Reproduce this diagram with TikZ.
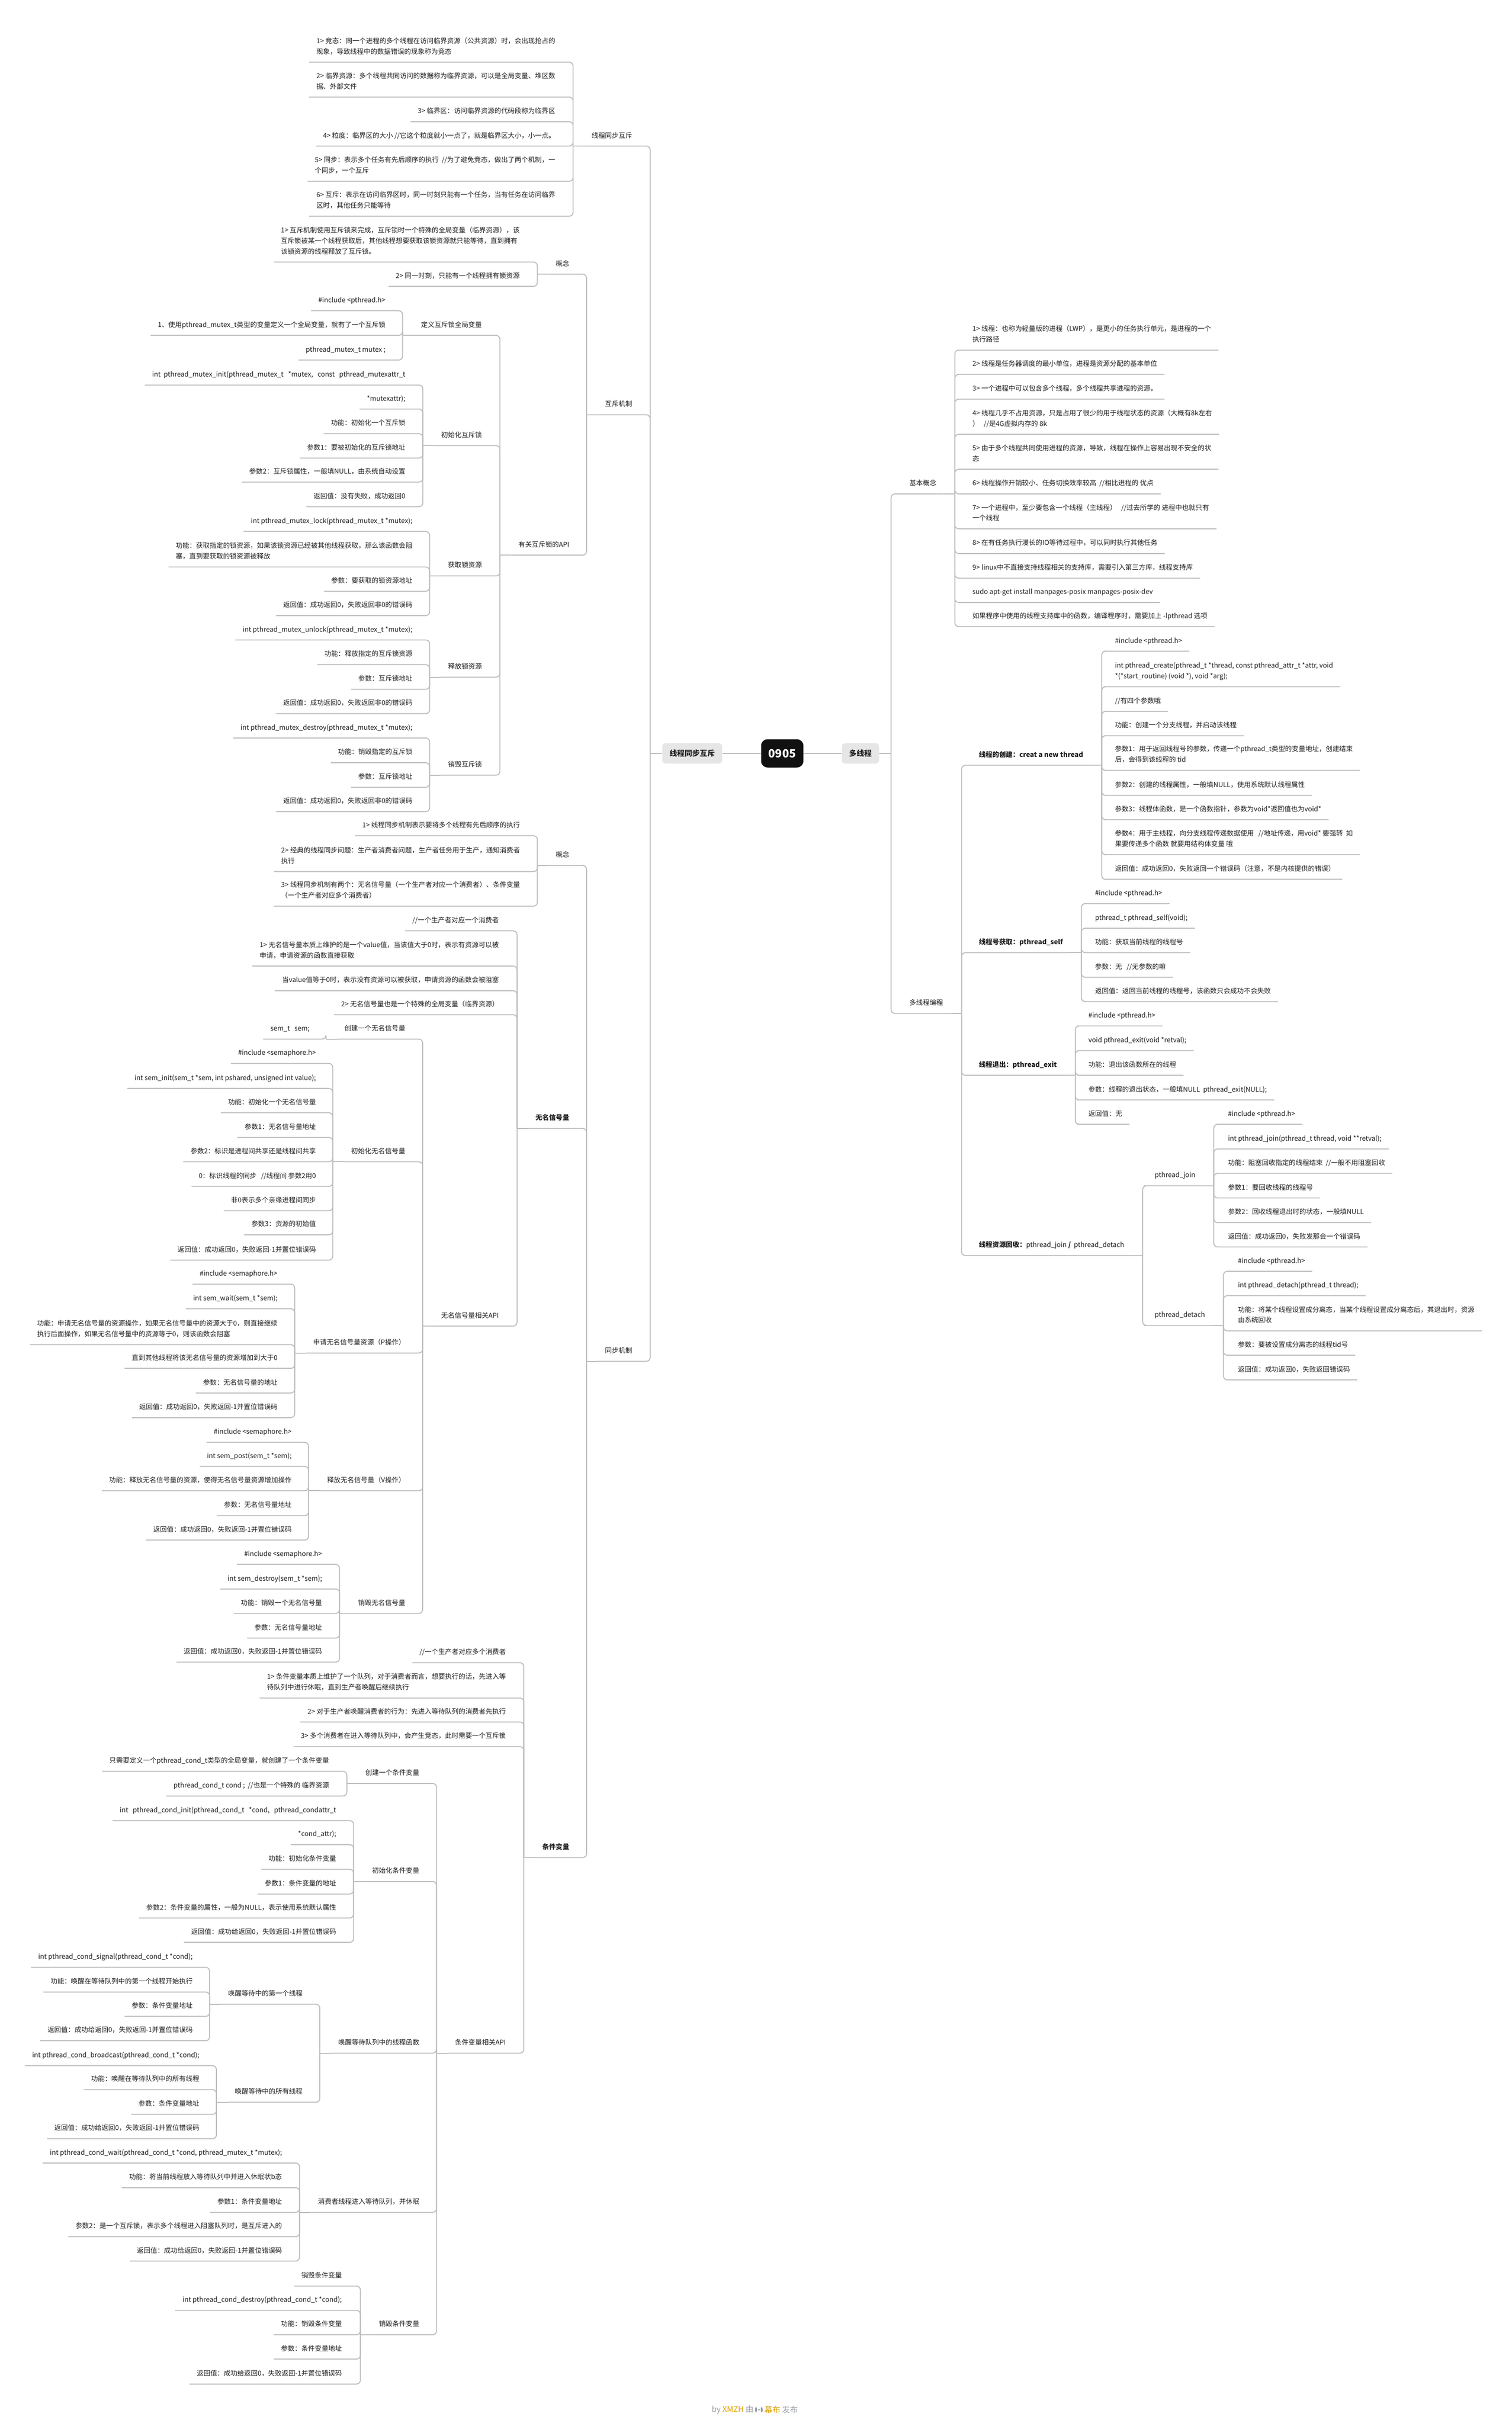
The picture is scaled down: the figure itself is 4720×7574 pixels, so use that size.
\documentclass[tikz,border=0pt]{standalone}
\usepackage{fontspec}
\setmainfont{Noto Sans CJK SC}

\definecolor{ink}{HTML}{1E1E1E}
\definecolor{linegray}{HTML}{BDBDBD}
\definecolor{boxgray}{HTML}{E6E6E6}
\definecolor{rootblack}{HTML}{111111}
\definecolor{fgray}{HTML}{9AA0A6}
\definecolor{forange}{HTML}{E0A000}

\newcommand\lines[1]{\vbox{\halign{##\hfil\cr#1\crcr}}}

\begin{document}
\begin{tikzpicture}[x=0.01cm, y=-0.01cm,
	link/.style={draw=linegray, line width=0.85pt, rounded corners=0.12cm},
	tl/.style={anchor=south east, inner xsep=0.22cm, inner ysep=0.25cm, text depth=0pt, text=ink, font=\fontsize{6}{9.4}\selectfont},
	tr/.style={tl, anchor=south west},
	strong/.style={font=\fontsize{6}{9.4}\selectfont\bfseries},
	topic/.style={fill=boxgray, rounded corners=0.1cm, minimum height=0.63cm, inner sep=0pt, text=ink, font=\fontsize{6.7}{8}\selectfont\bfseries}]
	\fill[white] (0,0) rectangle (4720,7574);
	\useasboundingbox (0,0) rectangle (4720,7574);

	\node[fill=rootblack, rounded corners=0.2cm, minimum width=1.32cm, minimum height=0.88cm, text=white, font=\fontsize{10}{12}\selectfont\bfseries] (root) at (2442,2352) {0905};
	\node[topic, minimum width=1.87cm] (lbox) at (2161,2352) {线程同步互斥};
	\node[topic, minimum width=1.16cm] (rbox) at (2686,2352) {多线程};
	\draw[link] (root) -- (lbox);
	\draw[link] (root) -- (rbox);

	% left: 线程同步互斥
	\node[tl] (sa) at (1996,456) {线程同步互斥};
	\node[tl] (sb) at (1996,1295) {互斥机制};
	\node[tl] (sc) at (1996,4250) {同步机制};
	\draw[link] (lbox.west) -- ++(-37,0) coordinate (lb);
	\foreach \c in {sa,sb,sc} \draw[link] (lb) |- (\c.south east) -- (\c.south west);

	\node[tl] (a1) at (1756,194) {\lines{1> 竞态：同一个进程的多个线程在访问临界资源（公共资源）时，会出现抢占的\cr 现象，导致线程中的数据错误的现象称为竞态}};
	\node[tl] (a2) at (1756,303) {\lines{2> 临界资源：多个线程共同访问的数据称为临界资源，可以是全局变量、堆区数\cr 据、外部文件}};
	\node[tl] (a3) at (1756,380) {3> 临界区：访问临界资源的代码段称为临界区};
	\node[tl] (a4) at (1756,456) {4> 粒度：临界区的大小 //它这个粒度就小一点了，就是临界区大小，小一点。};
	\node[tl] (a5) at (1756,566) {\lines{5> 同步：表示多个任务有先后顺序的执行\ \ //为了避免竞态，做出了两个机制，一\cr 个同步，一个互斥}};
	\node[tl] (a6) at (1756,675) {\lines{6> 互斥：表示在访问临界区时，同一时刻只能有一个任务，当有任务在访问临界\cr 区时，其他任务只能等待}};
	\draw[link] (sa.south west) -- ++(-35,0) coordinate (sa-b);
	\foreach \c in {a1,a2,a3,a4,a5,a6} \draw[link] (sa-b) |- (\c.south east) -- (\c.south west);

	% 互斥机制
	\node[tl] (b1) at (1800,856) {概念};
	\node[tl] (b2) at (1800,1733) {有关互斥锁的API};
	\draw[link] (sb.south west) -- ++(-35,0) coordinate (sb-b);
	\foreach \c in {b1,b2} \draw[link] (sb-b) |- (\c.south east) -- (\c.south west);

	\node[tl] (b11) at (1645,818) {\lines{1> 互斥机制使用互斥锁来完成，互斥锁时一个特殊的全局变量（临界资源），该\cr 互斥锁被某一个线程获取后，其他线程想要获取该锁资源就只能等待，直到拥有\cr 该锁资源的线程释放了互斥锁。}};
	\node[tl] (b12) at (1645,894) {2> 同一时刻，只能有一个线程拥有锁资源};
	\draw[link] (b1.south west) -- ++(-35,0) coordinate (b1-b);
	\foreach \c in {b11,b12} \draw[link] (b1-b) |- (\c.south east) -- (\c.south west);

	\node[tl] (c1) at (1527,1047) {定义互斥锁全局变量};
	\node[tl] (c2) at (1527,1391) {初始化互斥锁};
	\node[tl] (c3) at (1527,1798) {获取锁资源};
	\node[tl] (c4) at (1527,2114) {释放锁资源};
	\node[tl] (c5) at (1527,2420) {销毁互斥锁};
	\draw[link] (b2.south west) -- ++(-35,0) coordinate (b2-b);
	\foreach \c in {c1,c2,c3,c4,c5} \draw[link] (b2-b) |- (\c.south east) -- (\c.south west);

	\node[tl] (c11) at (1226,970) {\#include <pthread.h>};
	\node[tl] (c12) at (1226,1047) {1、使用pthread\_mutex\_t类型的变量定义一个全局变量，就有了一个互斥锁};
	\node[tl] (c13) at (1226,1124) {pthread\_mutex\_t mutex ;};
	\draw[link] (c1.south west) -- ++(-35,0) coordinate (c1-b);
	\foreach \c in {c11,c12,c13} \draw[link] (c1-b) |- (\c.south east) -- (\c.south west);

	\node[tl] (c21) at (1288,1202) {int\ \ pthread\_mutex\_init(pthread\_mutex\_t\ \ \ *mutex,\ \ \ const\ \ \ pthread\_mutexattr\_t};
	\node[tl] (c22) at (1288,1277) {*mutexattr);};
	\node[tl] (c23) at (1288,1354) {功能：初始化一个互斥锁};
	\node[tl] (c24) at (1288,1430) {参数1：要被初始化的互斥锁地址};
	\node[tl] (c25) at (1288,1505) {参数2：互斥锁属性，一般填NULL，由系统自动设置};
	\node[tl] (c26) at (1288,1582) {返回值：没有失败，成功返回0};
	\draw[link] (c2.south west) -- ++(-35,0) coordinate (c2-b);
	\foreach \c in {c21,c22,c23,c24,c25,c26} \draw[link] (c2-b) |- (\c.south east) -- (\c.south west);

	\node[tl] (c31) at (1310,1659) {int pthread\_mutex\_lock(pthread\_mutex\_t *mutex);};
	\node[tl] (c32) at (1310,1770) {\lines{功能：获取指定的锁资源，如果该锁资源已经被其他线程获取，那么该函数会阻\cr 塞，直到要获取的锁资源被释放}};
	\node[tl] (c33) at (1310,1846) {参数：要获取的锁资源地址};
	\node[tl] (c34) at (1310,1922) {返回值：成功返回0，失败返回非0的错误码};
	\draw[link] (c3.south west) -- ++(-35,0) coordinate (c3-b);
	\foreach \c in {c31,c32,c33,c34} \draw[link] (c3-b) |- (\c.south east) -- (\c.south west);

	\node[tl] (c41) at (1310,1998) {int pthread\_mutex\_unlock(pthread\_mutex\_t *mutex);};
	\node[tl] (c42) at (1310,2075) {功能：释放指定的互斥锁资源};
	\node[tl] (c43) at (1310,2152) {参数：互斥锁地址};
	\node[tl] (c44) at (1310,2228) {返回值：成功返回0，失败返回非0的错误码};
	\draw[link] (c4.south west) -- ++(-35,0) coordinate (c4-b);
	\foreach \c in {c41,c42,c43,c44} \draw[link] (c4-b) |- (\c.south east) -- (\c.south west);

	\node[tl] (c51) at (1310,2304) {int pthread\_mutex\_destroy(pthread\_mutex\_t *mutex);};
	\node[tl] (c52) at (1310,2381) {功能：销毁指定的互斥锁};
	\node[tl] (c53) at (1310,2458) {参数：互斥锁地址};
	\node[tl] (c54) at (1310,2534) {返回值：成功返回0，失败返回非0的错误码};
	\draw[link] (c5.south west) -- ++(-35,0) coordinate (c5-b);
	\foreach \c in {c51,c52,c53,c54} \draw[link] (c5-b) |- (\c.south east) -- (\c.south west);

	% 同步机制
	\node[tl] (d1) at (1800,2702) {概念};
	\node[tl, strong] (d2) at (1800,3523) {无名信号量};
	\node[tl, strong] (d3) at (1800,5799) {条件变量};
	\draw[link] (sc.south west) -- ++(-35,0) coordinate (sc-b);
	\foreach \c in {d1,d2,d3} \draw[link] (sc-b) |- (\c.south east) -- (\c.south west);

	\node[tl] (d11) at (1646,2609) {1> 线程同步机制表示要将多个线程有先后顺序的执行};
	\node[tl] (d12) at (1646,2721) {\lines{2> 经典的线程同步问题：生产者消费者问题，生产者任务用于生产，通知消费者\cr 执行}};
	\node[tl] (d13) at (1646,2829) {\lines{3> 线程同步机制有两个：无名信号量（一个生产者对应一个消费者）、条件变量\cr （一个生产者对应多个消费者）}};
	\draw[link] (d1.south west) -- ++(-35,0) coordinate (d1-b);
	\foreach \c in {d11,d12,d13} \draw[link] (d1-b) |- (\c.south east) -- (\c.south west);

	\node[tl] (e1) at (1580,2906) {//一个生产者对应一个消费者};
	\node[tl] (e2) at (1580,3016) {\lines{1> 无名信号量本质上维护的是一个value值，当该值大于0时，表示有资源可以被\cr 申请，申请资源的函数直接获取}};
	\node[tl] (e3) at (1580,3093) {当value值等于0时，表示没有资源可以被获取，申请资源的函数会被阻塞};
	\node[tl] (e4) at (1580,3168) {2> 无名信号量也是一个特殊的全局变量（临界资源）};
	\node[tl] (e5) at (1580,4140) {无名信号量相关API};
	\draw[link] (d2.south west) -- ++(-35,0) coordinate (d2-b);
	\foreach \c in {e1,e2,e3,e4,e5} \draw[link] (d2-b) |- (\c.south east) -- (\c.south west);

	\node[tl] (f1) at (1288,3244) {创建一个无名信号量};
	\node[tl] (f2) at (1288,3627) {初始化无名信号量};
	\node[tl] (f3) at (1288,4224) {申请无名信号量资源（P操作）};
	\node[tl] (f4) at (1288,4654) {释放无名信号量（V操作）};
	\node[tl] (f5) at (1288,5037) {销毁无名信号量};
	\draw[link] (e5.south west) -- ++(-35,0) coordinate (e5-b);
	\foreach \c in {f1,f2,f3,f4,f5} \draw[link] (e5-b) |- (\c.south east) -- (\c.south west);

	\node[tl] (f11) at (989,3244) {sem\_t\ \ \ sem;};
	\draw[link] (f1.south west) -- ++(-35,0) coordinate (f1-b);
	\draw[link] (f1-b) |- (f11.south east) -- (f11.south west);

	\node[tl] (f21) at (1009,3320) {\#include <semaphore.h>};
	\node[tl] (f22) at (1009,3398) {int sem\_init(sem\_t *sem, int pshared, unsigned int value);};
	\node[tl] (f23) at (1009,3474) {功能：初始化一个无名信号量};
	\node[tl] (f24) at (1009,3551) {参数1：无名信号量地址};
	\node[tl] (f25) at (1009,3627) {参数2：标识是进程间共享还是线程间共享};
	\node[tl] (f26) at (1009,3704) {0：标识线程的同步\ \ \ //线程间 参数2用0};
	\node[tl] (f27) at (1009,3780) {非0表示多个亲缘进程间同步};
	\node[tl] (f28) at (1009,3855) {参数3：资源的初始值};
	\node[tl] (f29) at (1009,3934) {返回值：成功返回0，失败返回-1并置位错误码};
	\draw[link] (f2.south west) -- ++(-35,0) coordinate (f2-b);
	\foreach \c in {f21,f22,f23,f24,f25,f26,f27,f28,f29} \draw[link] (f2-b) |- (\c.south east) -- (\c.south west);

	\node[tl] (f31) at (889,4009) {\#include <semaphore.h>};
	\node[tl] (f32) at (889,4086) {int sem\_wait(sem\_t *sem);};
	\node[tl] (f33) at (889,4198) {\lines{功能：申请无名信号量的资源操作，如果无名信号量中的资源大于0，则直接继续\cr 执行后面操作，如果无名信号量中的资源等于0，则该函数会阻塞}};
	\node[tl] (f34) at (889,4272) {直到其他线程将该无名信号量的资源增加到大于0};
	\node[tl] (f35) at (889,4349) {参数：无名信号量的地址};
	\node[tl] (f36) at (889,4426) {返回值：成功返回0，失败返回-1并置位错误码};
	\draw[link] (f3.south west) -- ++(-35,0) coordinate (f3-b);
	\foreach \c in {f31,f32,f33,f34,f35,f36} \draw[link] (f3-b) |- (\c.south east) -- (\c.south west);

	\node[tl] (f41) at (933,4503) {\#include <semaphore.h>};
	\node[tl] (f42) at (933,4578) {int sem\_post(sem\_t *sem);};
	\node[tl] (f43) at (933,4654) {功能：释放无名信号量的资源，使得无名信号量资源增加操作};
	\node[tl] (f44) at (933,4732) {参数：无名信号量地址};
	\node[tl] (f45) at (933,4808) {返回值：成功返回0，失败返回-1并置位错误码};
	\draw[link] (f4.south west) -- ++(-35,0) coordinate (f4-b);
	\foreach \c in {f41,f42,f43,f44,f45} \draw[link] (f4-b) |- (\c.south east) -- (\c.south west);

	\node[tl] (f51) at (1028,4884) {\#include <semaphore.h>};
	\node[tl] (f52) at (1028,4961) {int sem\_destroy(sem\_t *sem);};
	\node[tl] (f53) at (1028,5037) {功能：销毁一个无名信号量};
	\node[tl] (f54) at (1028,5114) {参数：无名信号量地址};
	\node[tl] (f55) at (1028,5189) {返回值：成功返回0，失败返回-1并置位错误码};
	\draw[link] (f5.south west) -- ++(-35,0) coordinate (f5-b);
	\foreach \c in {f51,f52,f53,f54,f55} \draw[link] (f5-b) |- (\c.south east) -- (\c.south west);

	% 条件变量
	\node[tl] (g1) at (1602,5191) {//一个生产者对应多个消费者};
	\node[tl] (g2) at (1602,5301) {\lines{1> 条件变量本质上维护了一个队列，对于消费者而言，想要执行的话，先进入等\cr 待队列中进行休眠，直到生产者唤醒后继续执行}};
	\node[tl] (g3) at (1602,5376) {2> 对于生产者唤醒消费者的行为：先进入等待队列的消费者先执行};
	\node[tl] (g4) at (1602,5453) {3> 多个消费者在进入等待队列中，会产生竞态，此时需要一个互斥锁};
	\node[tl] (g5) at (1602,6410) {条件变量相关API};
	\draw[link] (d3.south west) -- ++(-35,0) coordinate (d3-b);
	\foreach \c in {g1,g2,g3,g4,g5} \draw[link] (d3-b) |- (\c.south east) -- (\c.south west);

	\node[tl] (h1) at (1332,5568) {创建一个条件变量};
	\node[tl] (h2) at (1332,5874) {初始化条件变量};
	\node[tl] (h3) at (1332,6410) {唤醒等待队列中的线程函数};
	\node[tl] (h4) at (1332,6907) {消费者线程进入等待队列，并休眠};
	\node[tl] (h5) at (1332,7289) {销毁条件变量};
	\draw[link] (g5.south west) -- ++(-35,0) coordinate (g5-b);
	\foreach \c in {h1,h2,h3,h4,h5} \draw[link] (g5-b) |- (\c.south east) -- (\c.south west);

	\node[tl] (h11) at (1050,5530) {只需要定义一个pthread\_cond\_t类型的全局变量，就创建了一个条件变量};
	\node[tl] (h12) at (1050,5607) {pthread\_cond\_t cond ;\ \ //也是一个特殊的 临界资源};
	\draw[link] (h1.south west) -- ++(-35,0) coordinate (h1-b);
	\foreach \c in {h11,h12} \draw[link] (h1-b) |- (\c.south east) -- (\c.south west);

	\node[tl] (h21) at (1072,5684) {int\ \ \ pthread\_cond\_init(pthread\_cond\_t\ \ \ *cond,\ \ \ pthread\_condattr\_t};
	\node[tl] (h22) at (1072,5759) {*cond\_attr);};
	\node[tl] (h23) at (1072,5836) {功能：初始化条件变量};
	\node[tl] (h24) at (1072,5913) {参数1：条件变量的地址};
	\node[tl] (h25) at (1072,5988) {参数2：条件变量的属性，一般为NULL，表示使用系统默认属性};
	\node[tl] (h26) at (1072,6064) {返回值：成功给返回0，失败返回-1并置位错误码};
	\draw[link] (h2.south west) -- ++(-35,0) coordinate (h2-b);
	\foreach \c in {h21,h22,h23,h24,h25,h26} \draw[link] (h2-b) |- (\c.south east) -- (\c.south west);

	\node[tl] (h31) at (967,6257) {唤醒等待中的第一个线程};
	\node[tl] (h32) at (967,6563) {唤醒等待中的所有线程};
	\draw[link] (h3.south west) -- ++(-35,0) coordinate (h3-b);
	\foreach \c in {h31,h32} \draw[link] (h3-b) |- (\c.south east) -- (\c.south west);

	\node[tl] (h311) at (624,6142) {int pthread\_cond\_signal(pthread\_cond\_t *cond);};
	\node[tl] (h312) at (624,6219) {功能：唤醒在等待队列中的第一个线程开始执行};
	\node[tl] (h313) at (624,6295) {参数：条件变量地址};
	\node[tl] (h314) at (624,6371) {返回值：成功给返回0，失败返回-1并置位错误码};
	\draw[link] (h31.south west) -- ++(-35,0) coordinate (h31-b);
	\foreach \c in {h311,h312,h313,h314} \draw[link] (h31-b) |- (\c.south east) -- (\c.south west);

	\node[tl] (h321) at (645,6449) {int pthread\_cond\_broadcast(pthread\_cond\_t *cond);};
	\node[tl] (h322) at (645,6524) {功能：唤醒在等待队列中的所有线程};
	\node[tl] (h323) at (645,6601) {参数：条件变量地址};
	\node[tl] (h324) at (645,6677) {返回值：成功给返回0，失败返回-1并置位错误码};
	\draw[link] (h32.south west) -- ++(-35,0) coordinate (h32-b);
	\foreach \c in {h321,h322,h323,h324} \draw[link] (h32-b) |- (\c.south east) -- (\c.south west);

	\node[tl] (h41) at (903,6753) {int pthread\_cond\_wait(pthread\_cond\_t *cond, pthread\_mutex\_t *mutex);};
	\node[tl] (h42) at (903,6830) {功能：将当前线程放入等待队列中并进入休眠状b态};
	\node[tl] (h43) at (903,6907) {参数1：条件变量地址};
	\node[tl] (h44) at (903,6983) {参数2：是一个互斥锁，表示多个线程进入阻塞队列时，是互斥进入的};
	\node[tl] (h45) at (903,7059) {返回值：成功给返回0，失败返回-1并置位错误码};
	\draw[link] (h4.south west) -- ++(-35,0) coordinate (h4-b);
	\foreach \c in {h41,h42,h43,h44,h45} \draw[link] (h4-b) |- (\c.south east) -- (\c.south west);

	\node[tl] (h51) at (1090,7137) {销毁条件变量};
	\node[tl] (h52) at (1090,7213) {int pthread\_cond\_destroy(pthread\_cond\_t *cond);};
	\node[tl] (h53) at (1090,7289) {功能：销毁条件变量};
	\node[tl] (h54) at (1090,7365) {参数：条件变量地址};
	\node[tl] (h55) at (1090,7443) {返回值：成功给返回0，失败返回-1并置位错误码};
	\draw[link] (h5.south west) -- ++(-35,0) coordinate (h5-b);
	\foreach \c in {h51,h52,h53,h54,h55} \draw[link] (h5-b) |- (\c.south east) -- (\c.south west);

	% right: 多线程
	\node[tr] (p1) at (2816,1542) {基本概念};
	\node[tr] (p2) at (2816,3164) {多线程编程};
	\draw[link] (rbox.east) -- ++(37,0) coordinate (rb);
	\foreach \c in {p1,p2} \draw[link] (rb) |- (\c.south west) -- (\c.south east);

	\node[tr] (q1) at (3013,1093) {\lines{1> 线程：也称为轻量版的进程（LWP），是更小的任务执行单元，是进程的一个\cr 执行路径}};
	\node[tr] (q2) at (3013,1169) {2> 线程是任务器调度的最小单位，进程是资源分配的基本单位};
	\node[tr] (q3) at (3013,1246) {3> 一个进程中可以包含多个线程，多个线程共享进程的资源。};
	\node[tr] (q4) at (3013,1356) {\lines{4> 线程几乎不占用资源，只是占用了很少的用于线程状态的资源（大概有8k左右\cr ）\ \ \ //是4G虚拟内存的 8k}};
	\node[tr] (q5) at (3013,1465) {\lines{5> 由于多个线程共同使用进程的资源，导致，线程在操作上容易出现不安全的状\cr 态}};
	\node[tr] (q6) at (3013,1542) {6> 线程操作开销较小、任务切换效率较高\ \ //相比进程的 优点};
	\node[tr] (q7) at (3013,1651) {\lines{7> 一个进程中，至少要包含一个线程（主线程）\ \ \ //过去所学的 进程中也就只有\cr 一个线程}};
	\node[tr] (q8) at (3013,1728) {8> 在有任务执行漫长的IO等待过程中，可以同时执行其他任务};
	\node[tr] (q9) at (3013,1805) {9> linux中不直接支持线程相关的支持库，需要引入第三方库，线程支持库};
	\node[tr] (q10) at (3013,1881) {sudo apt-get install manpages-posix manpages-posix-dev};
	\node[tr] (q11) at (3013,1956) {如果程序中使用的线程支持库中的函数，编译程序时，需要加上 -lpthread 选项};
	\draw[link] (p1.south east) -- ++(35,0) coordinate (p1-b);
	\foreach \c in {q1,q2,q3,q4,q5,q6,q7,q8,q9,q10,q11} \draw[link] (p1-b) |- (\c.south west) -- (\c.south east);

	\node[tr, strong] (r1) at (3033,2389) {线程的创建：creat a new thread};
	\node[tr, strong] (r2) at (3033,2974) {线程号获取：pthread\_self};
	\node[tr, strong] (r3) at (3033,3357) {线程退出：pthread\_exit};
	\node[tr] (r4) at (3033,3920) {\textbf{线程资源回收：}pthread\_join \textbf{/}\ \ pthread\_detach};
	\draw[link] (p2.south east) -- ++(35,0) coordinate (p2-b);
	\foreach \c in {r1,r2,r3,r4} \draw[link] (p2-b) |- (\c.south west) -- (\c.south east);

	\node[tr] (r11) at (3458,2033) {\#include <pthread.h>};
	\node[tr] (r12) at (3458,2144) {\lines{int pthread\_create(pthread\_t *thread, const pthread\_attr\_t *attr, void\cr *(*start\_routine) (void *), void *arg);}};
	\node[tr] (r13) at (3458,2221) {//有四个参数哦};
	\node[tr] (r14) at (3458,2297) {功能：创建一个分支线程，并启动该线程};
	\node[tr] (r15) at (3458,2405) {\lines{参数1：用于返回线程号的参数，传递一个pthread\_t类型的变量地址，创建结束\cr 后，会得到该线程的 tid}};
	\node[tr] (r16) at (3458,2483) {参数2：创建的线程属性，一般填NULL，使用系统默认线程属性};
	\node[tr] (r17) at (3458,2559) {参数3：线程体函数，是一个函数指针，参数为void*返回值也为void*};
	\node[tr] (r18) at (3458,2668) {\lines{参数4：用于主线程，向分支线程传递数据使用\ \ \ //地址传递，用void* 要强转\ \ 如\cr 果要传递多个函数 就要用结构体变量 哦}};
	\node[tr] (r19) at (3458,2745) {返回值：成功返回0，失败返回一个错误码（注意，不是内核提供的错误）};
	\draw[link] (r1.south east) -- ++(35,0) coordinate (r1-b);
	\foreach \c in {r11,r12,r13,r14,r15,r16,r17,r18,r19} \draw[link] (r1-b) |- (\c.south west) -- (\c.south east);

	\node[tr] (r21) at (3396,2821) {\#include <pthread.h>};
	\node[tr] (r22) at (3396,2898) {pthread\_t pthread\_self(void);};
	\node[tr] (r23) at (3396,2974) {功能：获取当前线程的线程号};
	\node[tr] (r24) at (3396,3051) {参数：无\ \ \ //无参数的嘛};
	\node[tr] (r25) at (3396,3127) {返回值：返回当前线程的线程号，该函数只会成功不会失败};
	\draw[link] (r2.south east) -- ++(35,0) coordinate (r2-b);
	\foreach \c in {r21,r22,r23,r24,r25} \draw[link] (r2-b) |- (\c.south west) -- (\c.south east);

	\node[tr] (r31) at (3375,3203) {\#include <pthread.h>};
	\node[tr] (r32) at (3375,3280) {void pthread\_exit(void *retval);};
	\node[tr] (r33) at (3375,3357) {功能：退出该函数所在的线程};
	\node[tr] (r34) at (3375,3434) {参数：线程的退出状态，一般填NULL\ \ pthread\_exit(NULL);};
	\node[tr] (r35) at (3375,3510) {返回值：无};
	\draw[link] (r3.south east) -- ++(35,0) coordinate (r3-b);
	\foreach \c in {r31,r32,r33,r34,r35} \draw[link] (r3-b) |- (\c.south west) -- (\c.south east);

	\node[tr] (r41) at (3582,3702) {pthread\_join};
	\node[tr] (r42) at (3582,4138) {pthread\_detach};
	\draw[link] (r4.south east) -- ++(35,0) coordinate (r4-b);
	\foreach \c in {r41,r42} \draw[link] (r4-b) |- (\c.south west) -- (\c.south east);

	\node[tr] (j1) at (3811,3510) {\#include <pthread.h>};
	\node[tr] (j2) at (3811,3587) {int pthread\_join(pthread\_t thread, void **retval);};
	\node[tr] (j3) at (3811,3663) {功能：阻塞回收指定的线程结束\ \ //一般不用阻塞回收};
	\node[tr] (j4) at (3811,3740) {参数1：要回收线程的线程号};
	\node[tr] (j5) at (3811,3817) {参数2：回收线程退出时的状态，一般填NULL};
	\node[tr] (j6) at (3811,3893) {返回值：成功返回0，失败发那会一个错误码};
	\draw[link] (r41.south east) -- ++(35,0) coordinate (r41-b);
	\foreach \c in {j1,j2,j3,j4,j5,j6} \draw[link] (r41-b) |- (\c.south west) -- (\c.south east);

	\node[tr] (k1) at (3842,3969) {\#include <pthread.h>};
	\node[tr] (k2) at (3842,4045) {int pthread\_detach(pthread\_t thread);};
	\node[tr] (k3) at (3842,4155) {\lines{功能：将某个线程设置成分离态，当某个线程设置成分离态后，其退出时，资源\cr 由系统回收}};
	\node[tr] (k4) at (3842,4231) {参数：要被设置成分离态的线程tid号};
	\node[tr] (k5) at (3842,4308) {返回值：成功返回0，失败返回错误码};
	\draw[link] (r42.south east) -- ++(35,0) coordinate (r42-b);
	\foreach \c in {k1,k2,k3,k4,k5} \draw[link] (r42-b) |- (\c.south west) -- (\c.south east);

	% footer
	\node[anchor=east, inner sep=0pt, text=fgray, font=\fontsize{7}{8}\selectfont] (ft1) at (2353,7523) {by \textcolor{forange}{XMZH} 由};
	\node[anchor=west, inner sep=0pt, text=fgray, font=\fontsize{7}{8}\selectfont] (ft2) at (2386,7523) {\textcolor{forange}{幕布} 发布};
	\fill[fgray] (2360,7523) ellipse (3 and 9);
	\fill[fgray] (2369,7523) circle (3);
	\fill[fgray] (2378,7523) ellipse (3 and 9);
\end{tikzpicture}
\end{document}
